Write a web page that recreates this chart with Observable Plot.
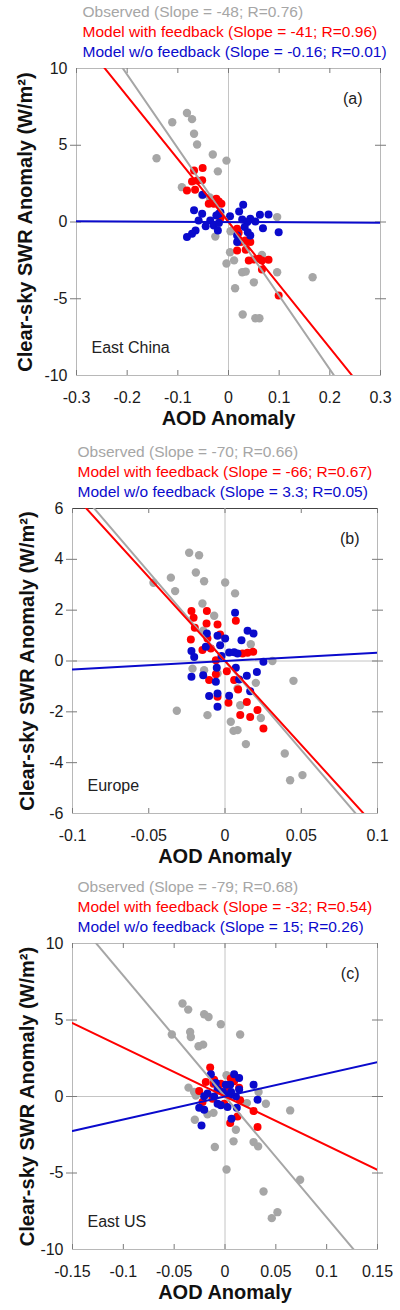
<!DOCTYPE html>
<html><head><meta charset="utf-8">
<script src="https://cdn.jsdelivr.net/npm/d3@7"></script>
<script src="https://cdn.jsdelivr.net/npm/@observablehq/plot@0.6"></script>
<style>
body{margin:0;background:#fff;width:400px;}
svg{display:block;}
</style></head><body><div id="chart"></div>
<script>
// ---- data ----
const seriesNames = ["Observed", "Model with feedback", "Model w/o feedback"];
const seriesColors = ["#a6a6a6", "#ff0000", "#0a0acc"];
const regionNames = ["East China", "Europe", "East US"];
const panelTags = ["(a)", "(b)", "(c)"];
const slopes = [[-48, -41, -0.16], [-70, -66, 3.3], [-79, -32, 15]];
const intercepts = [[0, 0, 0], [0, 0, 0], [0, 0, 0]];
const rValues = [["0.76", "0.96", "0.01"], ["0.66", "0.67", "0.05"], ["0.68", "0.54", "0.26"]];
const xTicks = [[-0.3, -0.2, -0.1, 0, 0.1, 0.2, 0.3], [-0.1, -0.05, 0, 0.05, 0.1], [-0.15, -0.1, -0.05, 0, 0.05, 0.1, 0.15]];
const yTicks = [[-10, -5, 0, 5, 10], [-6, -4, -2, 0, 2, 4, 6], [-10, -5, 0, 5, 10]];
const xTitle = "AOD Anomaly";
const yTitle = "Clear-sky SWR Anomaly (W/m²)";

// Panel (a) East China: [AOD anomaly, SWR anomaly]
const aObs = [[-0.142,4.15],[-0.111,6.5],[-0.082,7.1],[-0.072,6.7],[-0.068,5.75],[-0.062,5.05],[-0.031,4.4],[-0.004,4.0],[-0.021,3.3],[-0.092,2.27],[-0.037,1.6],[-0.052,1.75],[-0.026,-0.95],[0.004,-0.6],[0.096,0.32],[0.003,-1.97],[0.011,-2.5],[-0.004,-2.7],[0.027,-3.27],[0.034,-3.23],[0.05,-3.93],[0.013,-4.32],[0.066,-2.14],[0.096,-3.27],[0.166,-3.6],[0.028,-6.03],[0.053,-6.27],[0.061,-6.27]];
const aFb = [[-0.068,3.36],[-0.051,3.51],[-0.072,2.64],[-0.062,2.7],[-0.052,2.72],[-0.082,2.05],[-0.066,2.1],[-0.039,1.19],[-0.029,1.19],[-0.019,1.34],[-0.014,1.19],[-0.024,1.51],[-0.016,0.25],[0.017,-0.44],[0.02,-0.7],[0.024,-1.31],[0.033,-1.2],[0.043,-1.31],[0.017,-1.86],[0.034,-1.8],[0.04,-2.5],[0.05,-2.45],[0.06,-2.4],[0.066,-2.5],[0.079,-2.46],[0.066,-3.1],[0.099,-4.79]];
const aNoFb = [[-0.051,1.77],[-0.068,0.76],[-0.052,0.54],[-0.016,0.64],[-0.019,0.54],[-0.024,0.43],[0.003,0.38],[0.029,1.12],[0.021,0.69],[0.027,0.17],[0.043,0.21],[0.053,0.03],[0.062,0.47],[0.079,0.49],[0.068,-0.4],[0.099,-0.66],[-0.059,0.1],[-0.036,0.1],[-0.045,-0.27],[-0.029,-0.23],[-0.019,-0.07],[-0.021,-0.55],[-0.065,-0.55],[-0.072,-0.77],[-0.082,-0.98],[0.037,0],[0.032,-0.33],[0.038,-0.66],[0.043,-0.88],[0.017,-0.88],[0.017,-1.31]];

// Panel (b) Europe
const bObs = [[-0.0235,4.26],[-0.017,4.16],[-0.0355,3.28],[-0.0469,3.08],[-0.0327,2.75],[-0.0191,3.48],[-0.0137,3.14],[0.0001,3.09],[0.0066,2.66],[-0.0148,2.26],[-0.0071,1.78],[-0.0143,1.19],[0.0169,0.66],[0.0311,0.0],[-0.0213,-0.3],[-0.0137,-0.36],[-0.0049,-0.49],[0.0449,-0.78],[0.0202,-0.86],[-0.0316,-1.96],[-0.0115,-2.13],[0.0038,-2.39],[0.01,-1.74],[0.0056,-2.75],[0.0082,-2.72],[0.0235,-2.24],[0.0137,-3.27],[0.0392,-3.64],[0.0427,-4.69],[0.0508,-4.49],[0.0082,-1.08]];
const bFb = [[-0.022,1.97],[-0.0119,1.97],[-0.0206,1.7],[0.0071,1.58],[-0.0049,1.44],[-0.0121,1.48],[-0.0198,1.31],[-0.0224,0.85],[-0.0115,0.89],[-0.0032,1.04],[-0.0148,0.43],[-0.0093,0.49],[0.0115,0.3],[0.0148,0.32],[0.0185,0.36],[-0.006,0.03],[0.0012,-0.4],[-0.0104,-0.75],[-0.006,-0.52],[0.006,-0.75],[0.0086,-1.12],[-0.0049,-1.41],[0.0143,-1.61],[0.0023,-1.64],[0.0213,-1.93],[0.01,-2.12],[0.0165,-2.2],[0.0252,-2.66]];
const bNoFb = [[0.0066,1.9],[0.0148,1.19],[0.0187,1.08],[-0.0119,1.08],[-0.0049,0.99],[0.0001,0.89],[0.0108,0.82],[-0.0032,0.62],[-0.0126,0.56],[-0.022,0.39],[-0.0202,0.16],[-0.0023,0.2],[0.0027,0.33],[0.006,0.34],[0.0082,0.3],[0.0252,-0.03],[-0.0054,-0.27],[0.0071,-0.27],[-0.022,-0.62],[-0.0143,-0.56],[0.0093,-0.73],[0.0143,-0.58],[0.0209,-0.43],[-0.006,-0.82],[0.0165,-1.19],[-0.0049,-1.28],[-0.0104,-1.38],[0.0027,-1.37],[-0.0049,-1.8]];

// Panel (c) East US
const cObs = [[-0.0418,6.08],[-0.0362,5.68],[-0.0205,5.38],[-0.0162,5.2],[-0.0041,4.72],[-0.0523,4.05],[-0.0343,4.22],[-0.0336,3.89],[0.0149,4.05],[-0.026,3.28],[-0.0215,3.39],[0.0015,1.39],[-0.0359,0.58],[-0.0304,0.29],[-0.0287,0.07],[0.033,0.29],[0.0402,-0.47],[0.0215,-0.43],[0.0641,-0.91],[-0.0297,-1.52],[-0.0172,-1.17],[-0.0113,-1.07],[0.0107,-2.17],[-0.01,-3.3],[0.0084,-2.93],[0.0281,-2.98],[0.0326,-3.26],[0.0015,-4.77],[0.0739,-5.44],[0.0379,-6.21],[0.0516,-7.56],[0.046,-7.95]];
const cFb = [[-0.0146,1.89],[-0.0189,0.95],[-0.0254,0.36],[-0.0113,0.84],[0.0139,0.58],[0.0051,-1.73],[0.0123,-1.3],[0.0281,-0.95],[0.032,-2.0],[-0.0221,-0.36],[0.0149,-0.25],[0.0057,1.17],[-0.0058,0.4],[-0.0008,-0.47],[-0.0123,-0.14],[-0.0041,0.84],[0.0025,0.4],[0.009,1.0],[-0.0107,1.1]];
const cNoFb = [[-0.0139,1.45],[0.009,1.45],[0.0139,1.21],[-0.009,0.88],[0.0008,0.77],[0.0281,0.77],[0.0051,0.77],[0.0139,0.45],[-0.0073,0.45],[-0.0172,0.19],[-0.0205,0.01],[-0.0107,0.0],[0.0041,0.07],[0.0107,0.0],[0.032,-0.21],[-0.0254,-0.73],[-0.0205,-0.86],[-0.0041,-0.58],[0.0025,-0.69],[0.0116,-0.73],[-0.0073,-0.47],[0.0064,-1.45],[-0.0231,-1.89],[-0.002,0.3],[0.006,0.3]];

const panelData = [[aObs, aFb, aNoFb], [bObs, bFb, bNoFb], [cObs, cFb, cNoFb]];

// ---- layout ----
const layouts = [
  {height: 440, mt: 68, mb: 65, ml: 76, mr: 20, legendDx: 6, topColor: "#b8b8b8"},
  {height: 430, mt: 68, mb: 57, ml: 72, mr: 23, legendDx: 5, topColor: "#444"},
  {height: 440, mt: 73, mb: 61, ml: 72, mr: 23, legendDx: 5, topColor: "#b8b8b8"}
];
const FONT = "'Liberation Sans', Arial, Helvetica, sans-serif";
const fmt = d => String(d);

function panel(i) {
  const L = layouts[i];
  const W = 400;
  const pw = W - L.ml - L.mr, ph = L.height - L.mt - L.mb;
  const xt = xTicks[i], yt = yTicks[i];
  const xd = [xt[0], xt[xt.length - 1]];
  const yd = [yt[0], yt[yt.length - 1]];
  const tickCol = "#7a7a7a";
  const marks = [
    Plot.frame({stroke: "#b8b8b8"}),
    Plot.ruleY([yd[1]], {stroke: L.topColor}),
    Plot.ruleX([0], {stroke: "#c4c4c4"}),
    Plot.ruleY([0], {stroke: "#c4c4c4"}),
    Plot.ruleX(xt, {stroke: tickCol, insetBottom: ph - 5}),
    Plot.ruleX(xt, {stroke: tickCol, insetTop: ph - 5}),
    Plot.ruleY(yt.slice(1, -1), {stroke: tickCol, insetLeft: -6, insetRight: pw - 5}),
    Plot.ruleY(yt.slice(1, -1), {stroke: tickCol, insetLeft: pw - 5, insetRight: -6}),
    Plot.axisX(xt, {tickSize: 0, tickPadding: 16, fontSize: 16, tickFormat: fmt, label: null, fill: "#1a1a1a"}),
    Plot.axisY(yt, {tickSize: 0, tickPadding: 9, fontSize: 16, tickFormat: fmt, label: null, fill: "#1a1a1a"})
  ];
  const radii = [4.2, 4, 4];
  panelData[i].forEach((pts, j) => {
    marks.push(Plot.dot(pts, {x: d => d[0], y: d => d[1], r: radii[j], fill: seriesColors[j], stroke: "none"}));
  });
  panelData[i].forEach((pts, j) => {
    const b = slopes[i][j], a = intercepts[i][j];
    const fit = xd.map(x => ({x, y: a + b * x}));
    marks.push(Plot.line(fit, {x: "x", y: "y", stroke: seriesColors[j], strokeWidth: 2, clip: true}));
  });
  seriesNames.forEach((name, j) => {
    const label = `${name} (Slope = ${slopes[i][j]}; R=${rValues[i][j]})`;
    marks.push(Plot.text([label], {text: d => d, frameAnchor: "top-left", dx: L.legendDx, dy: -56 + 20 * j, textAnchor: "start", lineAnchor: "middle", fill: seriesColors[j], fontSize: 15.5}));
  });
  marks.push(Plot.text([regionNames[i]], {text: d => d, frameAnchor: "bottom-left", dx: 15, dy: -28, textAnchor: "start", lineAnchor: "middle", fontSize: 16, fill: "#222"}));
  marks.push(Plot.text([panelTags[i]], {text: d => d, frameAnchor: "top-right", dx: -18, dy: 30, textAnchor: "end", lineAnchor: "middle", fontSize: 16, fill: "#222"}));
  marks.push(Plot.text([xTitle], {text: d => d, frameAnchor: "bottom", dy: 43, textAnchor: "middle", lineAnchor: "middle", fontSize: 20, fontWeight: "bold", fill: "#111"}));
  marks.push(Plot.text([yTitle], {text: d => d, frameAnchor: "left", dx: 25 - L.ml + (i === 0 ? 0 : 2), rotate: -90, textAnchor: "middle", lineAnchor: "middle", fontSize: 20, fontWeight: "bold", fill: "#111"}));
  return Plot.plot({
    width: W, height: L.height,
    marginTop: L.mt, marginBottom: L.mb, marginLeft: L.ml, marginRight: L.mr,
    x: {domain: xd},
    y: {domain: yd},
    style: {fontFamily: FONT, fontSize: "16px", background: "#fff", overflow: "visible"},
    marks
  });
}
const root = document.getElementById("chart");
[0, 1, 2].forEach(i => root.appendChild(panel(i)));
</script></body></html>
